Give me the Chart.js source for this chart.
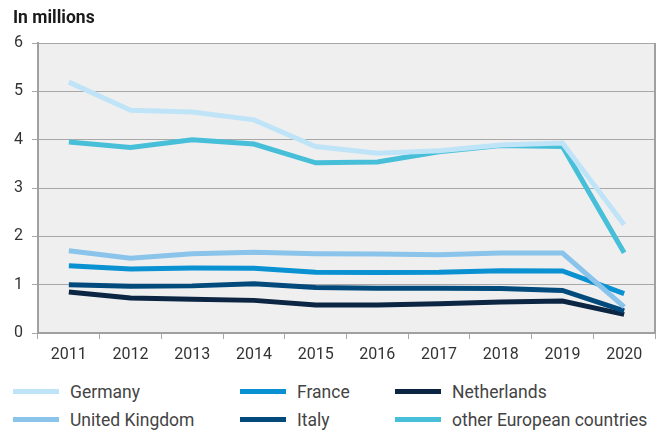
<!DOCTYPE html>
<html>
<head>
<meta charset="utf-8">
<script src="https://cdn.jsdelivr.net/npm/chart.js@4"></script>
<style>
html,body{margin:0;padding:0;background:#fff;}
#wrap{position:relative;width:662px;height:432px;font-family:Roboto,"Noto Sans",sans-serif;}
#title{position:absolute;left:13px;top:9.3px;font-size:17.5px;line-height:1;font-weight:bold;color:#1a1a1a;}
canvas{position:absolute;left:0;top:0;}
.lg{position:absolute;font-size:17.5px;line-height:1;color:#444;white-space:nowrap;}
.sw{position:absolute;height:5px;width:46px;}
</style>
</head>
<body>
<div id="wrap">
<canvas id="c" width="662" height="372"></canvas>
<div id="title">In millions</div>
<div id="legend"></div>
</div>
<script>
const years = ['2011','2012','2013','2014','2015','2016','2017','2018','2019','2020'];
const germany     = [5.19, 4.61, 4.57, 4.41, 3.86, 3.72, 3.77, 3.89, 3.93, 2.24];
const unitedKingdom = [1.70, 1.545, 1.64, 1.67, 1.64, 1.635, 1.62, 1.655, 1.655, 0.54];
const france      = [1.39, 1.325, 1.345, 1.34, 1.255, 1.25, 1.255, 1.29, 1.285, 0.815];
const italy       = [1.00, 0.965, 0.975, 1.02, 0.94, 0.925, 0.925, 0.92, 0.88, 0.46];
const netherlands = [0.85, 0.725, 0.70, 0.675, 0.58, 0.58, 0.605, 0.64, 0.66, 0.385];
const otherEurope = [3.95, 3.84, 4.00, 3.91, 3.52, 3.54, 3.75, 3.88, 3.86, 1.66];
const yTicks = [0,1,2,3,4,5,6];

const seriesNames = ['Germany','United Kingdom','France','Italy','Netherlands','other European countries'];
const seriesData = [germany, unitedKingdom, france, italy, netherlands, otherEurope];
const seriesColors = ['#bfe4f8','#8ac4eb','#0a91d1','#024a7c','#0c2543','#48bfd9'];

const datasets = seriesNames.map((n,i)=>({
  label:n, data:seriesData[i], borderColor:seriesColors[i], backgroundColor:seriesColors[i],
  borderWidth:5, pointRadius:0, tension:0, fill:false
}));

const bgPlugin = {
  id:'bg',
  beforeDraw(chart){
    const {ctx, chartArea:a} = chart;
    ctx.save();
    ctx.fillStyle = '#efefef';
    ctx.fillRect(a.left, a.top, a.right-a.left, a.bottom-a.top);
    ctx.restore();
  },
  afterDraw(chart){
    const {ctx, chartArea:a} = chart;
    ctx.save();
    ctx.strokeStyle = '#a0a0a0';
    ctx.lineWidth = 2;
    ctx.beginPath();
    ctx.moveTo(a.right, a.top);
    ctx.lineTo(a.right, a.bottom);
    ctx.stroke();
    ctx.restore();
  }
};

const font = {family:'Roboto', size:16};
new Chart(document.getElementById('c'), {
  type:'line',
  data:{labels:years, datasets},
  options:{
    responsive:false, animation:false,
    layout:{padding:{left:13,right:7,top:43,bottom:0}},
    plugins:{legend:{display:false}, tooltip:{enabled:false}},
    scales:{
      x:{
        offset:true,
        grid:{offset:true, drawOnChartArea:false, drawTicks:true, tickLength:6, color:'#a8a8a8', lineWidth:1},
        border:{color:'#a0a0a0', width:2},
        ticks:{font, color:'#333', padding:6, maxRotation:0},
        afterFit(s){ s.height = 39; }
      },
      y:{
        min:0, max:6,
        afterBuildTicks(s){ s.ticks = yTicks.map(v=>({value:v})); },
        grid:{color:'#a8a8a8', lineWidth:1, tickLength:6},
        border:{color:'#a0a0a0', width:2},
        ticks:{font, color:'#333', padding:9},
        afterFit(s){ s.width = 25; }
      }
    }
  },
  plugins:[bgPlugin]
});

// legend (row-major in 3 columns)
const legendOrder = [0,2,4,1,3,5];
const colX = [13,240,395];
const swY = [391,419];
const textTop = [384.3,412.3];
const lg = document.getElementById('legend');
legendOrder.forEach((si,k)=>{
  const c = k%3, r = Math.floor(k/3);
  const sw = document.createElement('div');
  sw.className='sw';
  sw.style.left = colX[c]+'px';
  sw.style.top = (swY[r]-2.5)+'px';
  sw.style.background = seriesColors[si];
  lg.appendChild(sw);
  const t = document.createElement('div');
  t.className='lg';
  t.textContent = seriesNames[si];
  t.style.left = (colX[c]+57)+'px';
  t.style.top = textTop[r]+'px';
  lg.appendChild(t);
});
</script>
</body>
</html>
